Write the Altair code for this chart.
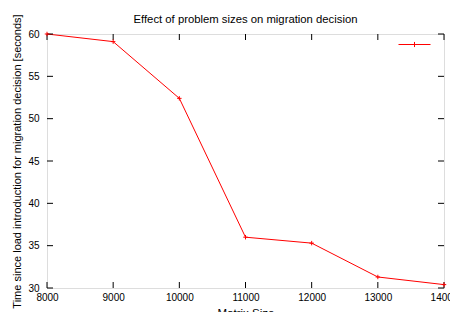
import altair as alt
import pandas as pd

# ---- data ----
sizes = [8000, 9000, 10000, 11000, 12000, 13000, 14000]
times = [60.0, 59.1, 52.4, 36.0, 35.3, 31.3, 30.4]
x_ticks = [8000, 9000, 10000, 11000, 12000, 13000, 14000]
y_ticks = [30, 35, 40, 45, 50, 55, 60]
series_name = [""]

W, H = 397, 254
FONT = "Liberation Sans"
RED = "#ff0000"

df = pd.DataFrame({"size": sizes, "time": times, "series": series_name * len(sizes)})

xs = alt.Scale(domain=[x_ticks[0], x_ticks[-1]], nice=False, zero=False)
ys = alt.Scale(domain=[y_ticks[0], y_ticks[-1]], nice=False, zero=False)

x_axis = alt.Axis(values=x_ticks, format="d", title="Matrix Size",
                  ticks=False, domain=False, grid=False, labelPadding=4,
                  labelFlush=False, labelOverlap=False,
                  titlePadding=5, titleFontWeight="normal", titleFontSize=11.5)
y_axis = alt.Axis(values=y_ticks, format="d",
                  title="Time since load introduction for migration decision [seconds]",
                  ticks=False, domain=False, grid=False, labelPadding=8,
                  labelFlush=False, labelOverlap=False,
                  titlePadding=5, titleFontWeight="normal", titleFontSize=11)

# inward tick marks (gnuplot style, mirrored on all four sides), in data units
xt_len = (y_ticks[-1] - y_ticks[0]) * 6 / H
yt_len = (x_ticks[-1] - x_ticks[0]) * 6 / W
xt = pd.DataFrame(
    [{"x": v, "y0": y_ticks[0], "y1": y_ticks[0] + xt_len} for v in x_ticks]
    + [{"x": v, "y0": y_ticks[-1], "y1": y_ticks[-1] - xt_len} for v in x_ticks]
)
yt = pd.DataFrame(
    [{"y": v, "x0": x_ticks[0], "x1": x_ticks[0] + yt_len} for v in y_ticks]
    + [{"y": v, "x0": x_ticks[-1], "x1": x_ticks[-1] - yt_len} for v in y_ticks]
)

line = alt.Chart(df).mark_line(strokeWidth=1, clip=False).encode(
    x=alt.X("size:Q", scale=xs, axis=x_axis),
    y=alt.Y("time:Q", scale=ys, axis=y_axis),
    color=alt.Color("series:N", scale=alt.Scale(range=[RED]),
                    legend=alt.Legend(orient="none", legendX=351, legendY=-6,
                                      title=None, padding=0,
                                      symbolType="M-1,0L1,0M0,-0.16L0,0.16",
                                      symbolSize=1024, symbolStrokeWidth=1,
                                      symbolStrokeColor=RED,
                                      symbolFillColor="transparent",
                                      labelExpr="''", labelOffset=0)),
)

pts = alt.Chart(df).mark_point(shape="M-1,0L1,0M0,-1L0,1", size=20, filled=False,
                               color=RED, strokeWidth=1, opacity=1).encode(
    x=alt.X("size:Q", scale=xs, axis=x_axis),
    y=alt.Y("time:Q", scale=ys, axis=y_axis),
)

xtick_layer = alt.Chart(xt).mark_rule(color="black", strokeWidth=1).encode(
    x=alt.X("x:Q", scale=xs, axis=x_axis),
    y=alt.Y("y0:Q", scale=ys, axis=y_axis),
    y2="y1:Q",
)
ytick_layer = alt.Chart(yt).mark_rule(color="black", strokeWidth=1).encode(
    y=alt.Y("y:Q", scale=ys, axis=y_axis),
    x=alt.X("x0:Q", scale=xs, axis=x_axis),
    x2="x1:Q",
)

chart = alt.layer(line, xtick_layer, ytick_layer, pts).properties(
    width=W, height=H,
    title=alt.TitleParams("Effect of problem sizes on migration decision",
                          font=FONT, fontSize=11.3, fontWeight="normal",
                          color="black", offset=-11, anchor="middle",
                          frame="group"),
    autosize=alt.AutoSizeParams(type="none"),
    padding={"left": 39, "top": 26, "right": 6, "bottom": 24},
).configure_view(
    stroke="black", strokeWidth=1
).configure_axis(
    labelFont=FONT, labelFontSize=11.5, labelColor="black",
    titleFont=FONT, titleColor="black",
).configure(background="white")

chart.save("out.html", embed_options={"renderer": "svg", "actions": False})
